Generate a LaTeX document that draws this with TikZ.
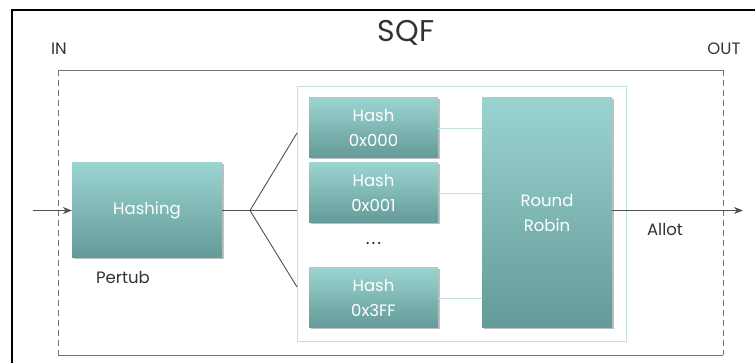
\documentclass[tikz,border=0pt]{standalone}
\usepackage{fontspec}
\setmainfont{Poppins}
\usetikzlibrary{shadows,arrows.meta}
\definecolor{tealtop}{HTML}{9AD4D0}
\definecolor{tealbot}{HTML}{649A99}
\definecolor{tealline}{HTML}{C2E2E0}
\definecolor{wire}{HTML}{505050}
\definecolor{labelgray}{HTML}{333333}
\tikzset{
  block/.style={rectangle, inner sep=0pt, top color=tealtop, bottom color=tealbot,
    text=white, align=center, font=\fontsize{16.5}{25}\selectfont,
    drop shadow={shadow xshift=1.5pt, shadow yshift=-1.5pt, opacity=0.25, fill=black}},
  wirestyle/.style={draw=wire, line width=0.9pt},
  teallink/.style={draw=tealline, line width=0.9pt},
  label/.style={text=labelgray, font=\fontsize{16.5}{19}\selectfont, inner sep=0pt},
  arrowtip/.style={-{Stealth[length=9pt,width=7pt]}}
}
\begin{document}
\begin{tikzpicture}[x=1pt,y=-1pt]
\useasboundingbox (0,0) rectangle (755,363);
\fill[white] (0,0) rectangle (755,363);
% outer frame
\draw[black, line width=1.2pt] (12,363) -- (12,10) -- (755,10);
% system boundary: solid top and bottom, dashed sides
\draw[wire!80, line width=0.8pt] (58,70) -- (723,70);
\draw[wire!80, line width=0.8pt] (58,355) -- (723,355);
\draw[wire!80, line width=0.8pt, dash pattern=on 6pt off 4pt] (58,70) -- (58,355);
\draw[wire!80, line width=0.8pt, dash pattern=on 6pt off 4pt] (723,70) -- (723,355);
% queue group
\draw[tealline, line width=0.9pt] (297,86) rectangle (626,341);

\node[label, font=\fontsize{30}{34}\selectfont] (title) at (406,33) {SQF};
\node[label] (inlbl) at (59,49) {IN};
\node[label] (outlbl) at (724,49) {OUT};

\node[block, minimum width=150pt, minimum height=95pt] (hashing) at (147,210.5) {Hashing};
\node[block, minimum width=129pt, minimum height=60pt] (h0) at (373.5,128) {Hash\\0x000};
\node[block, minimum width=129pt, minimum height=60pt] (h1) at (373.5,193) {Hash\\0x001};
\node[block, minimum width=129pt, minimum height=60pt] (h2) at (373.5,298) {Hash\\0x3FF};
\node[block, minimum width=130pt, minimum height=230pt] (rr) at (547,213) {Round\\Robin};

\node[label, font=\fontsize{18}{20}\selectfont] (dots) at (373.5,243) {.\kern2pt.\kern2pt.};
\node[label] (pertub) at (123,277) {Pertub};
\node[label] (allot) at (665,229) {Allot};

\coordinate (src) at (33,210.5);
\coordinate (fan) at (250,210.5);
\coordinate (f0) at (297,133);
\coordinate (f1) at (297,210.5);
\coordinate (f2) at (297,287);
\coordinate (dst) at (743,210.5);

\draw[wirestyle, arrowtip] (src) -- (hashing.west);
\draw[wirestyle] (hashing.east) -- (fan);
\draw[wirestyle] (fan) -- (f0);
\draw[wirestyle] (fan) -- (f1);
\draw[wirestyle] (fan) -- (f2);
\draw[wirestyle, arrowtip] (rr.east |- dst) -- (dst);

\draw[teallink] (h0.east) -- (rr.west |- h0.east);
\draw[teallink] (h1.east) -- (rr.west |- h1.east);
\draw[teallink] (h2.east) -- (rr.west |- h2.east);
\end{tikzpicture}
\end{document}
